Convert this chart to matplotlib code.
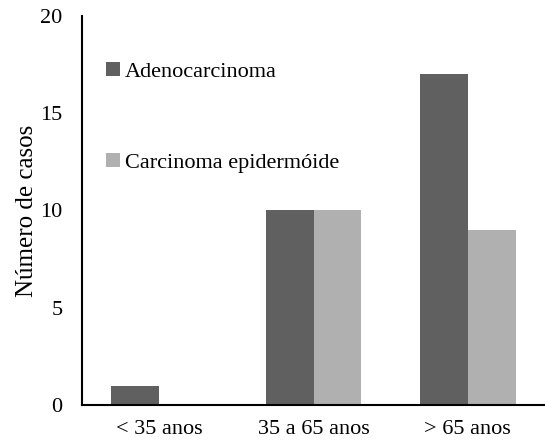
import matplotlib.pyplot as plt
import numpy as np

categorias = ['< 35 anos', '35 a 65 anos', '> 65 anos']
adenocarcinoma = [1, 10, 17]
epidermoide = [0, 10, 9]

plt.rcParams['font.family'] = ['Liberation Serif', 'DejaVu Serif']
plt.rcParams['font.size'] = 16

fig = plt.figure(figsize=(5.45, 4.46), dpi=100)
ax = fig.add_axes([82/545, 41/446, 1 - 82/545, (405-16)/446])

x = np.arange(len(categorias))
w = 0.31
ax.bar(x - w/2, adenocarcinoma, w, color='#606060', label='Adenocarcinoma')
ax.bar(x + w/2, epidermoide, w, color='#b0b0b0', label='Carcinoma epidermóide')

ax.set_xlim(-0.5, 2.5)
ax.set_ylim(0, 20)
ax.set_yticks([0, 5, 10, 15, 20])
ax.set_xticks(x)
ax.set_xticklabels(categorias)
ax.tick_params(axis='both', length=0)
ax.tick_params(axis='y', pad=14)
ax.tick_params(axis='x', pad=11)
ax.set_ylabel('Número de casos', fontsize=18, labelpad=2)

for s in ['top', 'right']:
    ax.spines[s].set_visible(False)
ax.spines['left'].set_linewidth(1.5)
ax.spines['bottom'].set_linewidth(1.5)

ax.legend(loc='upper left', bbox_to_anchor=(0.033, 0.905), frameon=False,
          handlelength=0.6, handleheight=0.6, handletextpad=0.25,
          labelspacing=3.2, borderaxespad=0)

fig.savefig('out.png', dpi=100)
